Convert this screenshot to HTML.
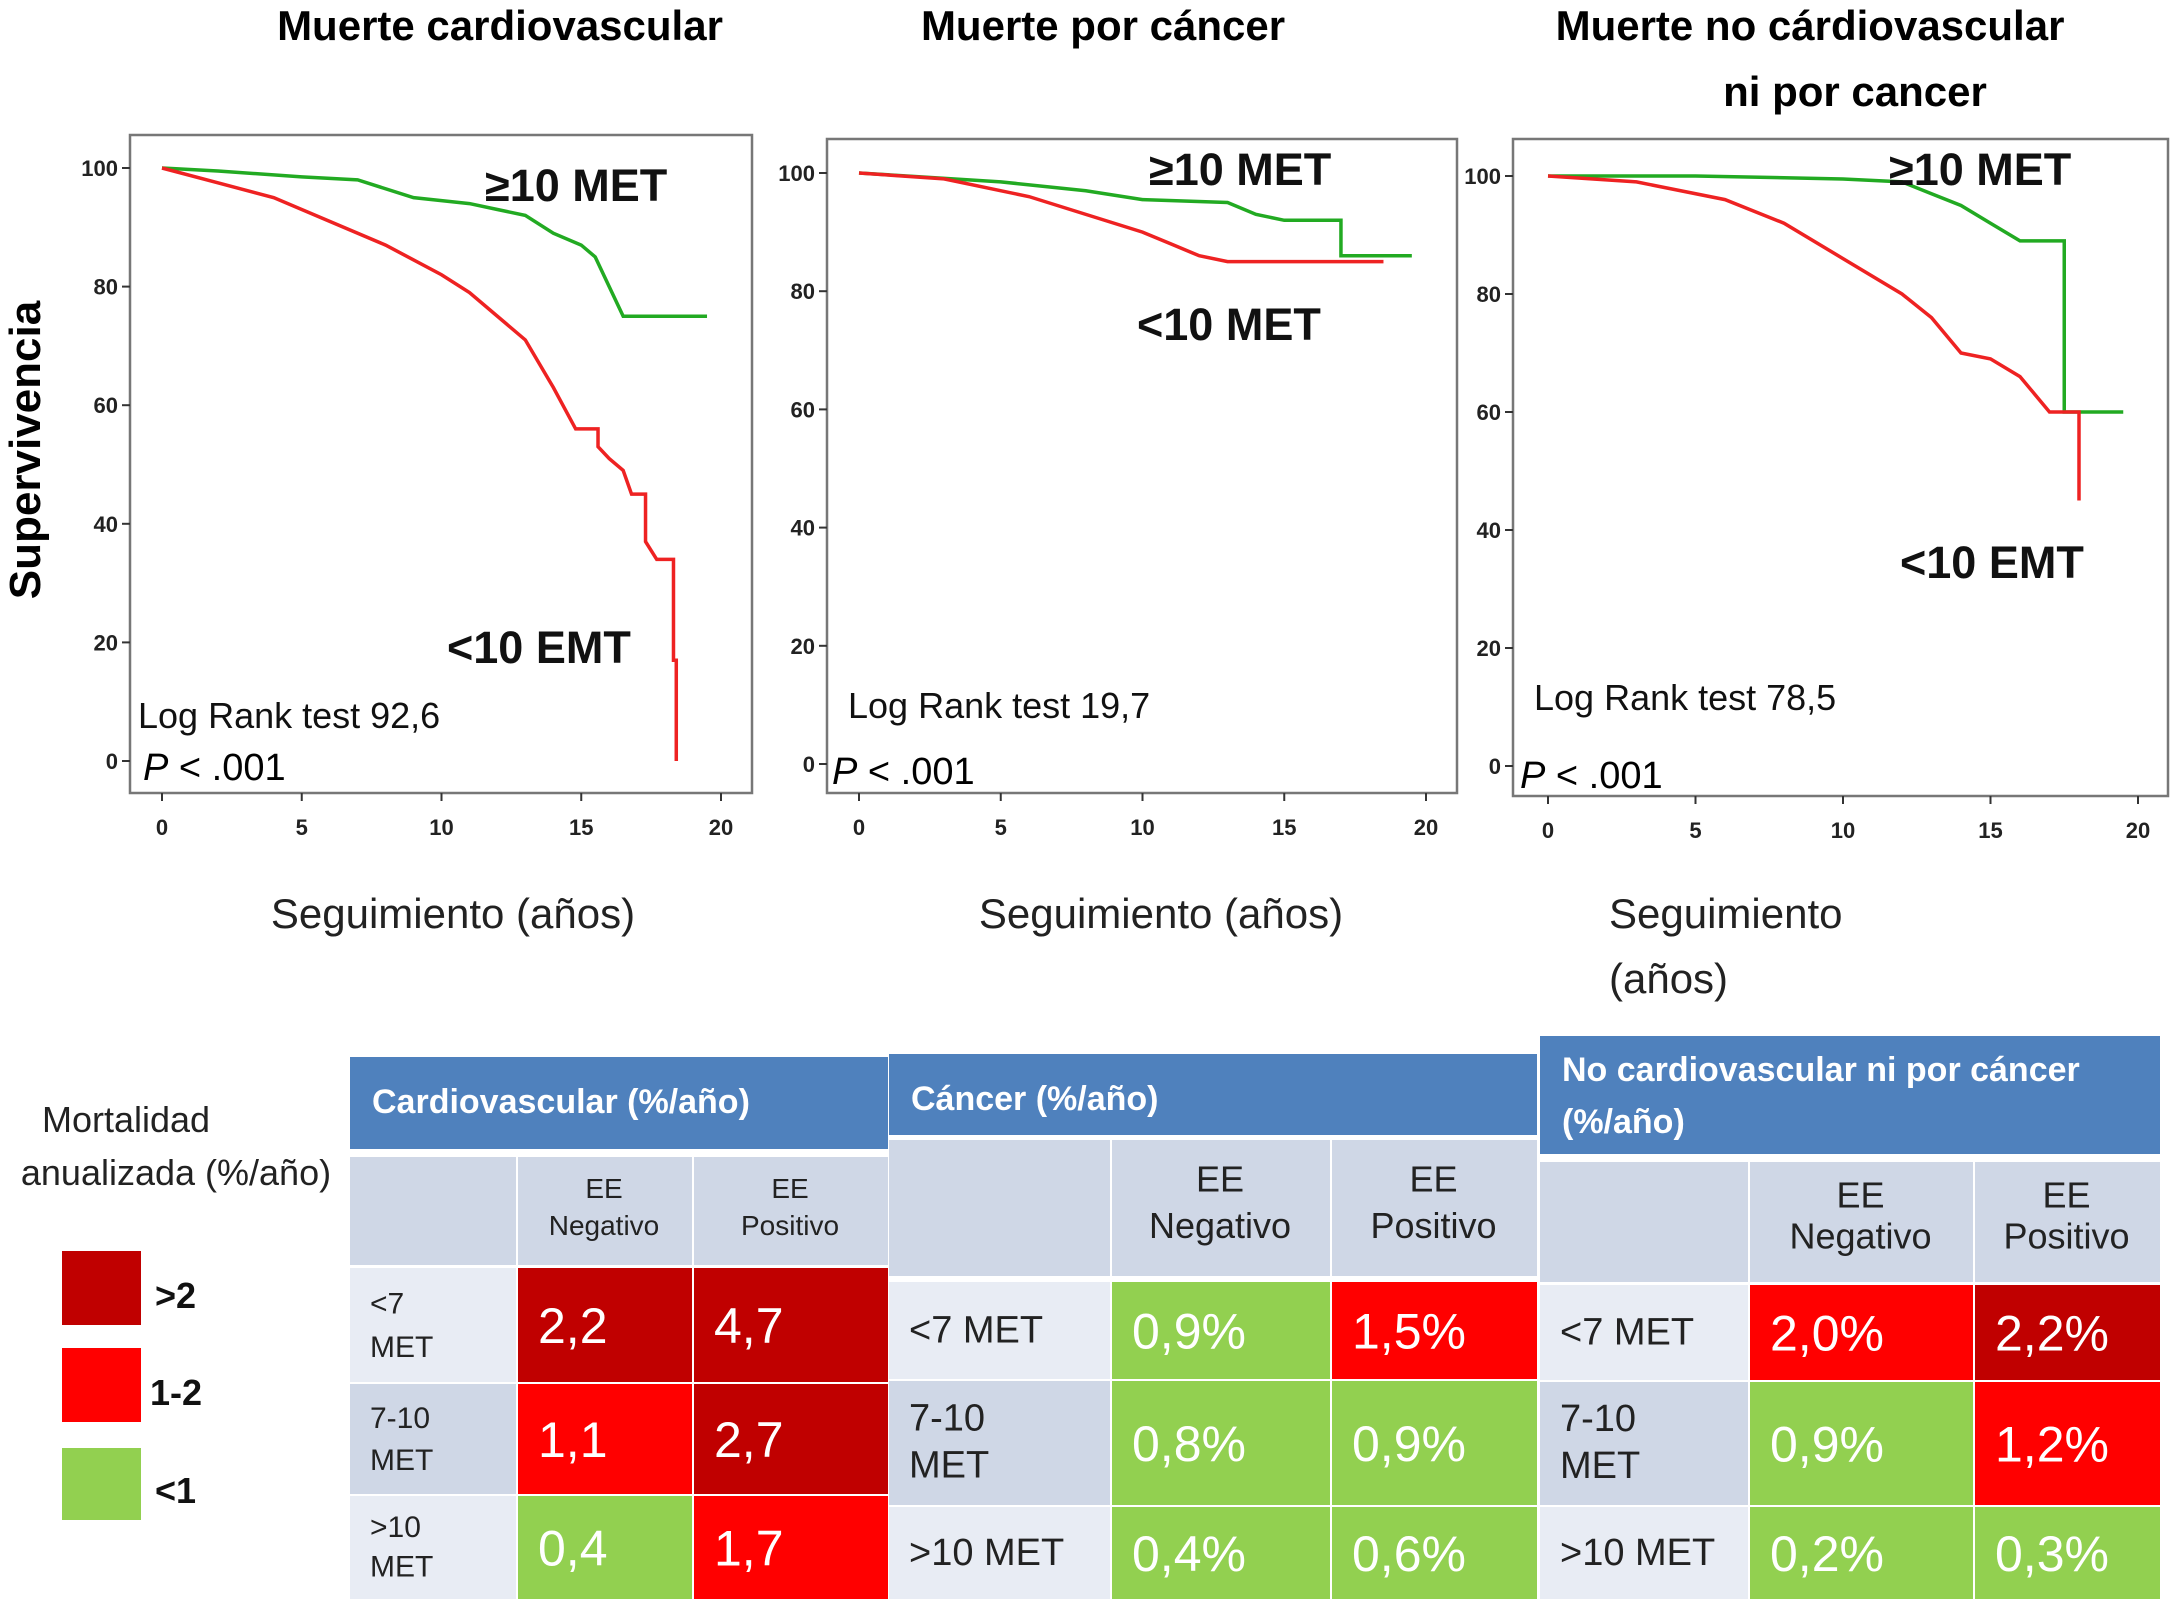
<!DOCTYPE html>
<html><head><meta charset="utf-8"><style>
body{margin:0;background:#fff;}
svg{display:block;font-family:"Liberation Sans",sans-serif;}
</style></head><body>
<svg id="s" width="2175" height="1599" viewBox="0 0 2175 1599" xmlns="http://www.w3.org/2000/svg">
<g font-weight="bold" font-size="42" fill="#000" text-anchor="middle">
<text x="500" y="40">Muerte cardiovascular</text>
<text x="1103" y="40">Muerte por cáncer</text>
<text x="1810" y="40">Muerte no cárdiovascular</text>
<text x="1855" y="106">ni por cancer</text>
</g>
<text transform="translate(40,450) rotate(-90)" text-anchor="middle" font-weight="bold" font-size="44">Supervivencia</text>
<g font-size="42" fill="#222">
<text x="453" y="928" text-anchor="middle">Seguimiento (años)</text>
<text x="1161" y="928" text-anchor="middle">Seguimiento (años)</text>
<text x="1609" y="928">Seguimiento</text>
<text x="1609" y="993">(años)</text>
</g>
<g id="plots"></g>
<g id="tables"></g>
<g font-size="36" fill="#222" text-anchor="middle">
<text x="126" y="1132">Mortalidad</text>
<text x="176" y="1185">anualizada (%/año)</text>
</g>
<rect x="62" y="1251" width="79" height="74" fill="#c00000"/>
<rect x="62" y="1348" width="79" height="74" fill="#ff0000"/>
<rect x="62" y="1448" width="79" height="72" fill="#92d050"/>
<g font-size="36" font-weight="bold" fill="#111">
<text x="155" y="1308">&gt;2</text>
<text x="150" y="1405">1-2</text>
<text x="155" y="1503">&lt;1</text>
</g>
</svg>
<script>
const NS="http://www.w3.org/2000/svg";
const xTicks=[0,5,10,15,20];
const yTicks=[0,20,40,60,80,100];
const p1GreenT=[0,2,5,7,9,10,11,12,13,14,15,15.5,16,16.5,19.5];
const p1GreenS=[100,99.5,98.5,98,95,94.5,94,93,92,89,87,85,80,75,75];
const p1RedT=[0,2,4,6,8,10,11,12,13,14,14.8,15.6,15.6,16,16.5,16.8,17.3,17.3,17.7,17.7,18.3,18.3,18.4,18.4];
const p1RedS=[100,97.5,95,91,87,82,79,75,71,63,56,56,53,51,49,45,45,37,34,34,34,17,17,0];
const p2GreenT=[0,5,8,10,13,14,15,17,17,19.5];
const p2GreenS=[100,98.5,97,95.5,95,93,92,92,86,86];
const p2RedT=[0,3,6,8,10,11,12,13,18.5];
const p2RedS=[100,99,96,93,90,88,86,85,85];
const p3GreenT=[0,5,10,12,13,14,15,16,17.5,17.5,19.5];
const p3GreenS=[100,100,99.5,99,97,95,92,89,89,60,60];
const p3RedT=[0,3,6,8,10,12,13,14,15,16,17,18,18];
const p3RedS=[100,99,96,92,86,80,76,70,69,66,60,60,45];
const panels=[
 {f:[130,135,752,793],x0:162,x20:721,y100:168,y0:761,g:[p1GreenT,p1GreenS],r:[p1RedT,p1RedS],
  t:[["≥10 MET",485,201,45,"bold"],["<10 EMT",447,663,45,"bold"],["Log Rank test 92,6",138,728,36,""]],p:[143,780]},
 {f:[827,139,1457,793],x0:859,x20:1426,y100:173,y0:764,g:[p2GreenT,p2GreenS],r:[p2RedT,p2RedS],
  t:[["≥10 MET",1149,185,45,"bold"],["<10 MET",1137,340,45,"bold"],["Log Rank test  19,7",848,718,36,""]],p:[832,784]},
 {f:[1513,139,2168,796],x0:1548,x20:2138,y100:176,y0:766,g:[p3GreenT,p3GreenS],r:[p3RedT,p3RedS],
  t:[["≥10 MET",1889,185,45,"bold"],["<10 EMT",1900,578,45,"bold"],["Log Rank test  78,5",1534,710,36,""]],p:[1520,788]}
];
function mk(tag,attrs,parent){const e=document.createElementNS(NS,tag);for(const k in attrs)e.setAttribute(k,attrs[k]);parent.appendChild(e);return e;}
const plots=document.getElementById('plots');
panels.forEach((P,i)=>{
 const g=mk('g',{},plots);
 
 
 const X=t=>P.x0+(P.x20-P.x0)*t/20, Y=v=>P.y0+(P.y100-P.y0)*v/100;
 const fr=mk('rect',{x:P.f[0],y:P.f[1],width:P.f[2]-P.f[0],height:P.f[3]-P.f[1],fill:'none',stroke:'#777','stroke-width':2.5},g);
 
 
 yTicks.forEach(v=>{
  mk('line',{x1:P.f[0]-8,x2:P.f[0],y1:Y(v),y2:Y(v),stroke:'#333','stroke-width':2},g);
  const t=mk('text',{x:P.f[0]-12,y:Y(v)+8,'text-anchor':'end','font-size':22,'font-weight':'bold',fill:'#222'},g);
  t.textContent=v;
  
  
 });
 xTicks.forEach(v=>{
  mk('line',{x1:X(v),x2:X(v),y1:P.f[3],y2:P.f[3]+8,stroke:'#333','stroke-width':2},g);
  const t=mk('text',{x:X(v),y:P.f[3]+42,'text-anchor':'middle','font-size':22,'font-weight':'bold',fill:'#222'},g);
  t.textContent=v;
  
  
 });
 [[P.g,'#22aa22','green-curve'],[P.r,'#ee2222','red-curve']].forEach(([d,c,n])=>{
  const T=d[0],S=d[1];let s='M'+X(T[0])+','+Y(S[0]);
  for(let k=1;k<T.length;k++){s+=' L'+X(T[k])+','+Y(S[k]);}
  const pa=mk('path',{d:s,fill:'none',stroke:c,'stroke-width':3.5},g);
  
  
 });
 P.t.forEach(a=>{
  const t=mk('text',{x:a[1],y:a[2],'font-size':a[3],'font-weight':a[4]||'normal',fill:'#111'},g);
  t.textContent=a[0];
  
  
 });
 const pt=mk('text',{x:P.p[0],y:P.p[1],'font-size':38,fill:'#000'},g);
 pt.innerHTML='<tspan font-style="italic">P</tspan> &lt; .001';
 
 
});
const rowLabels=[["<7","MET"],["7-10","MET"],[">10","MET"]];
const t1Vals=[["2,2","4,7"],["1,1","2,7"],["0,4","1,7"]];
const t2Vals=[["0,9%","1,5%"],["0,8%","0,9%"],["0,4%","0,6%"]];
const t3Vals=[["2,0%","2,2%"],["0,9%","1,2%"],["0,2%","0,3%"]];
const col=v=>{const n=parseFloat(v.replace(',','.'));return n>2?'#c00000':(n>=1?'#ff0000':'#92d050');};
const tables=[
 {title:["Cardiovascular (%/año)"],hd:[350,1057,888,1149],sub:[1157,1265],cols:[350,516,692,888],rows:[1268,1382,1494,1599],vals:t1Vals,lab:rowLabels,fs:28,vfs:50},
 {title:["Cáncer  (%/año)"],hd:[889,1054,1537,1135],sub:[1140,1276],cols:[889,1110,1330,1537],rows:[1282,1379,1505,1599],vals:t2Vals,lab:[["<7 MET"],["7-10","MET"],[">10 MET"]],fs:36,vfs:50},
 {title:["No cardiovascular ni por  cáncer","(%/año)"],hd:[1540,1036,2160,1154],sub:[1162,1282],cols:[1540,1748,1973,2160],rows:[1285,1380,1505,1599],vals:t3Vals,lab:[["<7 MET"],["7-10","MET"],[">10 MET"]],fs:36,vfs:50}
];
const tg=document.getElementById('tables');
tables.forEach((T,i)=>{
 const g=mk('g',{},tg);
 
 
 const h=mk('rect',{x:T.hd[0],y:T.hd[1],width:T.hd[2]-T.hd[0],height:T.hd[3]-T.hd[1],fill:'#4f81bd'},g);
 
 
 T.title.forEach((l,k)=>{
  const t=mk('text',{x:T.hd[0]+22,y:T.hd[1]+(T.title.length>1?45+k*52:56),'font-size':34,'font-weight':'bold',fill:'#fff'},g);
  t.textContent=l;
  
  
 });
 for(let c=0;c<3;c++){
  mk('rect',{x:T.cols[c]+(c?2:0),y:T.sub[0],width:T.cols[c+1]-T.cols[c]-(c?2:0),height:T.sub[1]-T.sub[0],fill:'#cfd7e6'},g);
  if(c>0){const cx=(T.cols[c]+T.cols[c+1])/2;
   ["EE",c==1?"Negativo":"Positivo"].forEach((w,k)=>{
    const t=mk('text',{x:cx,y:T.sub[0]+(T.sub[1]-T.sub[0])*(k?0.72:0.38),'text-anchor':'middle','font-size':T.fs,fill:'#222'},g);
    t.textContent=w;
    
    
   });}
 }
 for(let r=0;r<3;r++){
  const y0=T.rows[r]+(r?2:0),y1=T.rows[r+1];
  mk('rect',{x:T.cols[0],y:y0,width:T.cols[1]-T.cols[0],height:y1-y0,fill:r==1?'#cfd7e6':'#e8ecf4'},g);
  const lab=T.lab[r];
  lab.forEach((w,k)=>{
   const t=mk('text',{x:T.cols[0]+20,y:lab.length>1?y0+(y1-y0)*(0.4+k*0.38):y0+(y1-y0)*0.5+12,'font-size':T.fs+2,fill:'#222'},g);
   t.textContent=w;
   
   
  });
  for(let c=0;c<2;c++){
   const v=T.vals[r][c];
   const x0=T.cols[c+1]+2,x1=T.cols[c+2];
   const cell=mk('rect',{x:x0,y:y0,width:x1-x0,height:y1-y0,fill:col(v)},g);
   
   
   const t=mk('text',{x:x0+20,y:(y0+y1)/2+18,'font-size':T.vfs,fill:'#fff'},g);
   t.textContent=v;
   
   
  }
 }
});
</script>
</body></html>
